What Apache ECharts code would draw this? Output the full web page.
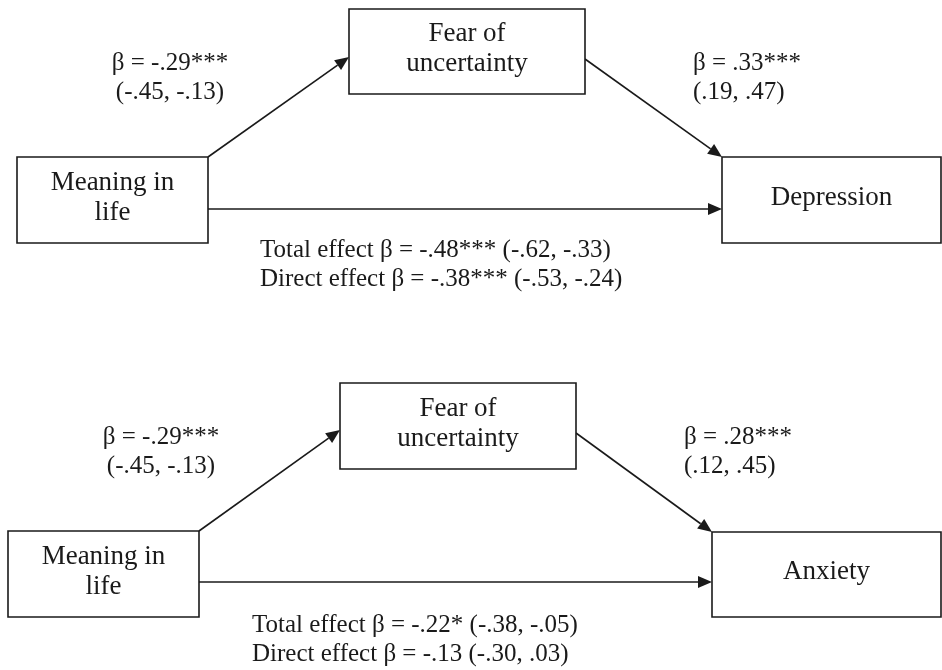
<!DOCTYPE html>
<html><head><meta charset="utf-8">
<script src="https://cdn.jsdelivr.net/npm/echarts@6/dist/echarts.min.js"></script>
<style>html,body{margin:0;padding:0;background:#fff}#c{width:942px;height:670px}</style>
</head><body><div id="c"></div>
<script>
// ---- data ----
const outcomes = ['Depression', 'Anxiety'];
const predictor = 'Meaning in\nlife';
const mediator = 'Fear of\nuncertainty';
const pathA = ['β = -.29***', 'β = -.29***'];
const pathACI = ['(-.45, -.13)', '(-.45, -.13)'];
const pathB = ['β = .33***', 'β = .28***'];
const pathBCI = ['(.19, .47)', '(.12, .45)'];
const totalEffect = ['Total effect β = -.48*** (-.62, -.33)', 'Total effect β = -.22* (-.38, -.05)'];
const directEffect = ['Direct effect β = -.38*** (-.53, -.24)', 'Direct effect β = -.13 (-.30, .03)'];

// ---- diagram layout (canvas units) ----
const layout = [
  { X:[17,157,208,243], M:[349,9,585,94], Y:[722,157,941,243], aEnd:57, bStart:59, cY:209, aLab:[170,77.5], bLab:[693,77.5], effLab:[260,265] },
  { X:[8,531,199,617], M:[340,383,576,469], Y:[712,532,941,617], aEnd:430, bStart:433, cY:582, aLab:[161,452], bLab:[684,452], effLab:[252,640] }
];

const INK = '#1a1a1a';
const FONT = '"Liberation Serif","Times New Roman",serif';

const boxes = [], arrows = [], labels = [];
layout.forEach((L, i) => {
  boxes.push({ r: L.X, text: predictor });
  boxes.push({ r: L.M, text: mediator });
  boxes.push({ r: L.Y, text: outcomes[i] });
  arrows.push([L.X[2], L.X[1], L.M[0], L.aEnd]);
  arrows.push([L.M[2], L.bStart, L.Y[0], L.Y[1]]);
  arrows.push([L.X[2], L.cY, L.Y[0], L.cY]);
  labels.push({ p: L.aLab, text: pathA[i] + '\n' + pathACI[i], align: 'center' });
  labels.push({ p: L.bLab, text: pathB[i] + '\n' + pathBCI[i], align: 'left' });
  labels.push({ p: L.effLab, text: totalEffect[i] + '\n' + directEffect[i], align: 'left' });
});

function renderBox(params, api) {
  const b = boxes[params.dataIndex];
  const p1 = api.coord([b.r[0], b.r[1]]);
  const p2 = api.coord([b.r[2], b.r[3]]);
  return { type: 'group', children: [
    { type: 'rect', shape: { x: p1[0], y: p1[1], width: p2[0] - p1[0], height: p2[1] - p1[1] },
      style: { fill: '#fff', stroke: INK, lineWidth: 1.6 } },
    { type: 'text', style: { x: (p1[0] + p2[0]) / 2, y: (p1[1] + p2[1]) / 2 - 2.5, text: b.text,
      font: '27px ' + FONT, fill: INK, align: 'center', verticalAlign: 'middle', lineHeight: 30 } }
  ]};
}

function renderArrow(params, api) {
  const s = api.coord([api.value(0), api.value(1)]);
  const e = api.coord([api.value(2), api.value(3)]);
  const ang = Math.atan2(e[1] - s[1], e[0] - s[0]);
  const Lh = 14, W = 6;
  const bx = e[0] - Lh * Math.cos(ang), by = e[1] - Lh * Math.sin(ang);
  const px = -Math.sin(ang) * W, py = Math.cos(ang) * W;
  return { type: 'group', children: [
    { type: 'line', shape: { x1: s[0], y1: s[1], x2: bx, y2: by }, style: { stroke: INK, lineWidth: 1.6 } },
    { type: 'polygon', shape: { points: [[e[0], e[1]], [bx + px, by + py], [bx - px, by - py]] }, style: { fill: INK } }
  ]};
}

function renderLabel(params, api) {
  const l = labels[params.dataIndex];
  const p = api.coord(l.p);
  return { type: 'text', style: { x: p[0], y: p[1], text: l.text, font: '25px ' + FONT, fill: INK,
    align: l.align, verticalAlign: 'middle', lineHeight: 29 } };
}

const chart = echarts.init(document.getElementById('c'), null, { renderer: 'canvas' });
chart.setOption({
  animation: false,
  backgroundColor: '#fff',
  grid: { left: 0, right: 0, top: 0, bottom: 0 },
  xAxis: { type: 'value', min: 0, max: 942, show: false },
  yAxis: { type: 'value', min: 0, max: 670, inverse: true, show: false },
  series: [
    { type: 'custom', renderItem: renderArrow, data: arrows, encode: { x: [0, 2], y: [1, 3] }, silent: true, z: 1 },
    { type: 'custom', renderItem: renderBox, data: boxes.map(b => b.r), encode: { x: [0, 2], y: [1, 3] }, silent: true, z: 2 },
    { type: 'custom', renderItem: renderLabel, data: labels.map(l => l.p), encode: { x: 0, y: 1 }, silent: true, z: 3 }
  ]
});
</script></body></html>
